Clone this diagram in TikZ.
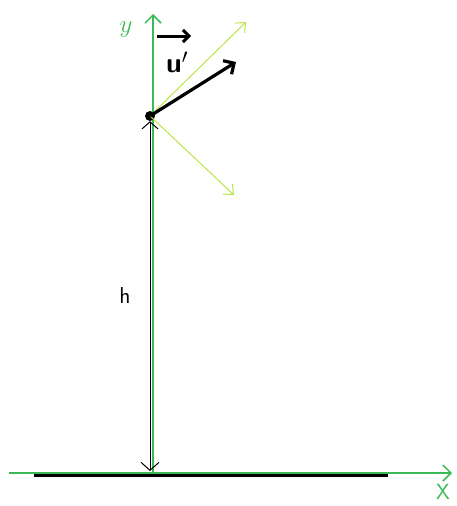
\documentclass[tikz,border=0pt]{standalone}
\usepackage{tikz}
\usetikzlibrary{arrows.meta}
\definecolor{axisgreen}{RGB}{60,185,85}
\definecolor{limegreen}{RGB}{185,230,70}
\begin{document}
\begin{tikzpicture}[x=1pt,y=-1pt,
axis/.style={axisgreen,line width=1.5pt,-{Straight Barb[length=8pt,width=16pt]}},
ray/.style={limegreen,line width=1pt,-{Straight Barb[length=8pt,width=14pt]}},
vel/.style={black,line width=3.2pt,-{Straight Barb[length=8pt,width=16pt,line width=3.2pt]}},
simple/.style={fill=black,circle,inner sep=0pt,minimum size=10pt}
]
\useasboundingbox (0,0) rectangle (456,506);
% ground
\coordinate (g1) at (34,474);
\coordinate (g2) at (388,474);
\draw[line width=5pt] (g1) -- (g2);
% axes
\coordinate (O) at (153,473);
\coordinate (xs) at (9,473);
\coordinate (xe) at (452,473);
\coordinate (ye) at (153,14);
\draw[axis] (xs) -- (xe);
\draw[axis] (O) -- (ye);
\node[axisgreen,font=\fontsize{26}{28}\selectfont] (ylab) at (126,30) {$y$};
\node[axisgreen,font=\sffamily\fontsize{22}{24}\selectfont,inner sep=1pt] (xlab) at (443,492) {X};
% particle
\node[simple] (P) at (150,116) {};
\coordinate (r1) at (246,22);
\coordinate (r2) at (234,195);
\draw[ray] (P.center) -- (r1);
\draw[ray] (P.center) -- (r2);
\coordinate (v) at (236,62);
\draw[vel] (P.center) -- (v);
% height
\coordinate (hb) at (150,471);
\draw[black,line width=1pt,{Straight Barb[length=7pt,width=16pt]}-{Straight Barb[length=8pt,width=18pt]}] (P.south) -- (hb);
\node[font=\sffamily\fontsize{23}{25}\selectfont] (h) at (125,296) {h};
% label u'
\node[font=\sffamily\bfseries\fontsize{28}{30}\selectfont] (u) at (177,62) {u$'$};
\draw[line width=3pt,-{Straight Barb[length=6pt,width=12pt,line width=3pt]}] ([xshift=-20pt,yshift=26pt]u.center) -- ([xshift=14pt,yshift=26pt]u.center);
\end{tikzpicture}
\end{document}
